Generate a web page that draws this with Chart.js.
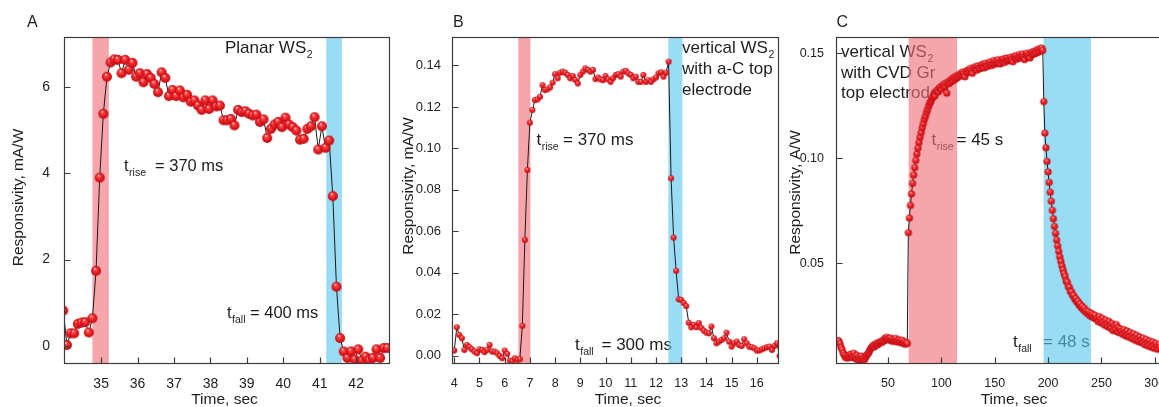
<!DOCTYPE html>
<html><head><meta charset="utf-8">
<script src="https://cdn.jsdelivr.net/npm/chart.js@4"></script>
<style>
html,body{margin:0;padding:0;background:#fff;width:1159px;height:407px;overflow:hidden;position:relative}
canvas{position:absolute;top:0}
</style></head><body>
<canvas id="ca" style="left:0px;width:400px;height:407px" width="400" height="407"></canvas>
<canvas id="cb" style="left:390px;width:400px;height:407px" width="400" height="407"></canvas>
<canvas id="cc" style="left:780px;width:420px;height:407px" width="420" height="407"></canvas>
<script>
// ---------- DATA ----------
// Panel A: planar WS2 (sampling grid start / step, seconds)
const aStart = 33.96, aStep = 0.1;
const aValues = [0.82,0.02,0.29,0.29,0.51,0.54,0.55,0.31,0.64,1.74,
 3.90,5.38,6.24,6.57,6.64,6.63,6.32,6.63,6.40,6.56,
 6.24,6.32,6.11,6.30,6.21,6.07,5.88,6.34,6.21,5.79,
 5.93,5.79,5.92,5.76,5.82,5.66,5.69,5.57,5.47,5.69,
 5.49,5.69,5.55,5.57,5.23,5.23,5.26,5.11,5.47,5.42,
 5.44,5.38,5.34,5.36,5.19,5.25,4.82,5.03,5.13,5.19,
 5.07,5.29,5.13,5.07,4.99,4.78,4.80,5.03,5.09,5.30,
 4.55,5.09,4.59,4.76,3.47,1.37,0.18,-0.13,-0.28,-0.13,
 -0.32,-0.08,-0.34,-0.25,-0.34,-0.28,-0.08,-0.28,-0.05,-0.05];
const aXTicks = [35,36,37,38,39,40,41,42];
const aYTicks = [0,2,4,6];
const aRise = [34.76,35.21], aFall = [41.18,41.61];

// Panel B: vertical WS2 with a-C top electrode
const bStart = 4.0, bStep = 0.1;
const bValues = [0.0026,0.0138,0.0101,0.0085,0.0029,0.0053,0.0042,0.0032,0.0021,0.0013,
 0.0032,0.0029,0.0018,0.0029,0.0053,0.0021,0.0021,0.0013,0.0000,-0.0011,
 0.0026,0.0010,-0.0022,-0.0027,-0.0011,-0.0019,-0.0016,0.0145,0.0559,0.0896,
 0.1124,0.1185,0.1233,0.1236,0.1249,0.1305,0.1281,0.1285,0.1294,0.1317,
 0.1358,0.1338,0.1365,0.1370,0.1365,0.1354,0.1338,0.1349,0.1330,0.1313,
 0.1354,0.1370,0.1386,0.1378,0.1370,0.1378,0.1334,0.1342,0.1333,0.1329,
 0.1349,0.1333,0.1321,0.1338,0.1354,0.1358,0.1346,0.1370,0.1374,0.1362,
 0.1354,0.1338,0.1346,0.1321,0.1321,0.1354,0.1321,0.1329,0.1321,0.1333,
 0.1342,0.1362,0.1367,0.1346,0.1365,0.1418,0.0856,0.0570,0.0410,0.0273,
 0.0270,0.0255,0.0240,0.0160,0.0138,0.0150,0.0138,0.0158,0.0135,0.0122,
 0.0112,0.0109,0.0142,0.0085,0.0061,0.0069,0.0077,0.0085,0.0112,0.0069,
 0.0045,0.0061,0.0069,0.0053,0.0048,0.0080,0.0061,0.0045,0.0042,0.0037,
 0.0026,0.0026,0.0032,0.0037,0.0042,0.0045,0.0029,0.0048,0.0061,0.0000];
const bXTicks = [4,5,6,7,8,9,10,11,12,13,14,15,16];
const bYTicks = [0,0.02,0.04,0.06,0.08,0.10,0.12,0.14];
const bRise = [6.54,7.02], bFall = [12.49,13.05];

// Panel C: vertical WS2 with CVD graphene top electrode
const cStart = 2, cStep = 1;
const cValues = [
 0.0125,0.0131,0.0127,0.0116,0.0098,0.0087,0.0071,0.0062,0.0050,0.0056,
 0.0047,0.0061,0.0052,0.0066,0.0058,0.0049,0.0070,0.0055,0.0044,0.0060,
 0.0038,0.0051,0.0042,0.0057,0.0036,0.0048,0.0040,0.0053,0.0061,0.0068,
 0.0075,0.0086,0.0095,0.0101,0.0108,0.0100,0.0112,0.0117,0.0109,0.0121,
 0.0118,0.0126,0.0122,0.0131,0.0128,0.0142,0.0136,0.0146,0.0139,0.0133,
 0.0143,0.0130,0.0137,0.0126,0.0134,0.0141,0.0129,0.0123,0.0135,0.0127,
 0.0121,0.0132,0.0118,0.0126,0.0113,0.0122,0.0117,
 0.0645,0.0715,0.0775,0.0830,0.0880,0.0920,0.0955,0.0990,0.1020,0.1048,
 0.1075,0.1100,0.1122,0.1145,0.1165,0.1185,0.1200,0.1218,0.1232,0.1248,
 0.1262,0.1270,0.1283,0.1292,0.1305,0.1298,0.1318,0.1325,0.1316,0.1334,
 0.1340,0.1329,0.1346,0.1352,0.1341,0.1358,0.1310,0.1362,0.1355,0.1371,
 0.1364,0.1379,0.1370,0.1386,0.1377,0.1392,0.1384,
 0.1398,0.1390,0.1405,0.1396,0.1411,0.1402,0.1388,0.1415,0.1407,0.1421,
 0.1412,0.1428,0.1418,0.1405,0.1432,0.1424,0.1436,0.1419,0.1440,0.1431,
 0.1426,0.1444,0.1435,0.1448,0.1430,0.1452,0.1441,0.1437,0.1455,0.1446,
 0.1459,0.1442,0.1451,0.1466,0.1448,0.1460,0.1453,0.1470,0.1457,0.1449,
 0.1468,0.1461,0.1474,0.1456,0.1470,0.1478,0.1463,0.1475,0.1468,0.1482,
 0.1471,0.1460,0.1485,0.1476,0.1489,0.1472,0.1481,0.1494,0.1478,0.1488,
 0.1497,0.1483,0.1470,0.1492,0.1501,0.1486,0.1495,0.1478,0.1504,0.1493,
 0.1508,0.1497,0.1512,0.1501,0.1518,0.1506,0.1522,0.1511,0.1525,0.1514,
 0.1270,0.1120,0.1050,0.0985,0.0935,0.0885,0.0838,0.0795,0.0752,0.0712,
 0.0675,0.0642,0.0610,0.0582,0.0556,0.0530,0.0508,0.0487,0.0468,0.0450,
 0.0436,0.0414,0.0409,0.0388,0.0384,0.0365,0.0362,0.0346,0.0345,0.0328,
 0.0331,0.0314,0.0318,0.0300,0.0305,0.0288,0.0294,0.0278,0.0284,0.0268,
 0.0272,0.0259,0.0268,0.0250,0.0262,0.0244,0.0255,0.0238,0.0251,0.0233,
 0.0238,0.0221,0.0245,0.0229,0.0214,0.0236,0.0219,0.0204,0.0228,0.0209,
 0.0196,0.0222,0.0201,0.0188,0.0212,0.0178,0.0199,0.0185,0.0207,0.0172,
 0.0191,0.0168,0.0186,0.0175,0.0160,0.0183,0.0166,0.0152,0.0177,0.0158,
 0.0146,0.0169,0.0150,0.0139,0.0163,0.0144,0.0131,0.0156,0.0137,0.0125,
 0.0148,0.0130,0.0119,0.0142,0.0124,0.0110,0.0136,0.0118,0.0104,0.0129,
 0.0112,0.0098,0.0124,0.0106,0.0093,0.0117,0.0101,0.0089,0.0112,0.0097];
const cXTicks = [50,100,150,200,250,300];
const cYTicks = [0.05,0.10,0.15];
const cRise = [69.3,114.7], cFall = [195.8,240.2];

// ---------- STYLE ----------
const FONT = '"Liberation Sans", Arial, Helvetica, sans-serif';
const TXT = '#1e1e1e';
const RED_BAND = 'rgba(240,110,120,0.62)';
const BLUE_BAND = 'rgba(94,199,239,0.62)';

function sphere(r){
  const s = Math.ceil(2*r+2);
  const c = document.createElement('canvas'); c.width = s; c.height = s;
  const g = c.getContext('2d'); const cx = s/2, cy = s/2;
  const gr = g.createRadialGradient(cx-r*0.25, cy-r*0.45, r*0.05, cx, cy, r);
  gr.addColorStop(0,'#ffe4e4'); gr.addColorStop(0.22,'#ff4a4a');
  gr.addColorStop(0.6,'#ea1c22'); gr.addColorStop(1,'#b50d12');
  g.fillStyle = gr; g.beginPath(); g.arc(cx,cy,r,0,Math.PI*2); g.fill();
  return c;
}

function toPoints(start, step, vals){ return vals.map((v,i)=>({x: start + i*step, y: v})); }

function fTxt(ctx, s, x, y, size, align){
  ctx.font = size + 'px ' + FONT; ctx.textAlign = align || 'left';
  ctx.textBaseline = 'alphabetic'; ctx.fillStyle = TXT; ctx.fillText(s, x, y);
}
function tSub(ctx, x, y, sub, rest, xRest, size){
  fTxt(ctx, 't', x, y, size);
  ctx.font = size + 'px ' + FONT; const w = ctx.measureText('t').width;
  fTxt(ctx, sub, x + w + 0.5, y + 5, 10.5);
  fTxt(ctx, rest, xRest, y, size);
}
function ws2(ctx, s, x, y, size){
  fTxt(ctx, s, x, y, size);
  ctx.font = size + 'px ' + FONT; const w = ctx.measureText(s).width;
  fTxt(ctx, '2', x + w + 0.5, y + 5, 10.5);
}
function yTitle(ctx, s, x, y, size){
  ctx.save(); ctx.translate(x, y); ctx.rotate(-Math.PI/2);
  fTxt(ctx, s, 0, 0, size, 'center'); ctx.restore();
}

function makeChart(id, o){
  const decorate = {
    id: 'decorate' + id,
    beforeDatasetsDraw(chart){
      const ctx = chart.ctx, a = chart.chartArea, xs = chart.scales.x;
      ctx.save();
      o.annot(ctx, o.off);
      ctx.beginPath(); ctx.rect(a.left, a.top, a.right - a.left, a.bottom - a.top); ctx.clip();
      [[o.rise, RED_BAND],[o.fall, BLUE_BAND]].forEach(([b,col])=>{
        const x1 = xs.getPixelForValue(b[0]), x2 = xs.getPixelForValue(b[1]);
        ctx.fillStyle = col; ctx.fillRect(x1, a.top, x2 - x1, a.bottom - a.top);
      });
      ctx.restore();
    },
    afterDraw(chart){
      const ctx = chart.ctx, a = chart.chartArea, xs = chart.scales.x, ys = chart.scales.y;
      ctx.save();
      ctx.strokeStyle = '#3c3c3c'; ctx.lineWidth = 1.2;
      const L = Math.round(a.left)+0.5, T = Math.round(a.top)+0.5, R = Math.round(a.right)-0.5, B = Math.round(a.bottom)-0.5;
      ctx.strokeRect(L, T, R - L, B - T);
      ctx.beginPath();
      o.xTicks.forEach(v=>{ const p = Math.round(xs.getPixelForValue(v))+0.5; ctx.moveTo(p, B); ctx.lineTo(p, B-6); });
      o.yTicks.forEach(v=>{ const p = Math.round(ys.getPixelForValue(v))+0.5; ctx.moveTo(L, p); ctx.lineTo(L+6, p); });
      ctx.stroke();
      o.titles(ctx, o.off);
      ctx.restore();
    }
  };
  return new Chart(document.getElementById(id), {
    type: 'line',
    data: { datasets: [{
      data: toPoints(o.start, o.step, o.values),
      borderColor: '#1a1a1a', borderWidth: 1, tension: 0,
      pointStyle: sphere(o.r), pointRadius: o.r, pointHoverRadius: o.r
    }]},
    options: {
      responsive: false, animation: false, events: [],
      layout: { padding: { left: 0, right: o.padRight, top: 37, bottom: 0 } },
      plugins: { legend: { display: false }, tooltip: { enabled: false } },
      scales: {
        x: {
          type: 'linear', min: o.xMin, max: o.xMax,
          afterBuildTicks: s => { s.ticks = o.xTicks.map(v => ({ value: v })); },
          afterFit: s => { s.height = 43; },
          grid: { display: false }, border: { display: false },
          ticks: { autoSkip: false, maxRotation: 0, padding: 4, color: '#222',
                   font: { family: FONT, size: o.xFont }, callback: v => String(v) }
        },
        y: {
          type: 'linear', min: o.yMin, max: o.yMax,
          afterBuildTicks: s => { s.ticks = o.yTicks.map(v => ({ value: v })); },
          afterFit: s => { s.width = o.yW; },
          grid: { display: false }, border: { display: false },
          ticks: { autoSkip: false, padding: o.yPad, color: '#222',
                   font: { family: FONT, size: o.yFont }, callback: v => Number(v).toFixed(o.yDec) }
        }
      }
    },
    plugins: [decorate]
  });
}

makeChart('ca', {
  off: 0, start: aStart, step: aStep, values: aValues, r: 5,
  xMin: 33.98, xMax: 42.93, yMin: -0.42, yMax: 7.16,
  xTicks: aXTicks, yTicks: aYTicks, yDec: 0, rise: aRise, fall: aFall,
  yW: 64, padRight: 10, xFont: 14, yFont: 14, yPad: 6,
  annot(ctx, off){
    ws2(ctx, 'Planar WS', 225 - off, 53, 17);
    tSub(ctx, 124 - off, 171, 'rise', '= 370 ms', 155 - off, 16.5);
    tSub(ctx, 227 - off, 318, 'fall', '= 400 ms', 250 - off, 16.5);
  },
  titles(ctx, off){
    fTxt(ctx, 'A', 27 - off, 27, 16);
    yTitle(ctx, 'Responsivity, mA/W', 23 - off, 197.5, 15.5);
    fTxt(ctx, 'Time, sec', 224.5 - off, 404, 15.5, 'center');
  }
});

makeChart('cb', {
  off: 390, start: bStart, step: bStep, values: bValues, r: 3,
  xMin: 3.91, xMax: 16.88, yMin: -0.0039, yMax: 0.1537,
  xTicks: bXTicks, yTicks: bYTicks, yDec: 2, rise: bRise, fall: bFall,
  yW: 62, padRight: 11, xFont: 12.5, yFont: 13, yPad: 3,
  annot(ctx, off){
    ws2(ctx, 'vertical WS', 682 - off, 53, 17);
    fTxt(ctx, 'with a-C top', 682 - off, 74, 17);
    fTxt(ctx, 'electrode', 682 - off, 94.5, 17);
    tSub(ctx, 536.5 - off, 145, 'rise', '= 370 ms', 563 - off, 17);
    tSub(ctx, 575 - off, 350, 'fall', '= 300 ms', 601.5 - off, 17);
  },
  titles(ctx, off){
    fTxt(ctx, 'B', 453 - off, 26.5, 16);
    yTitle(ctx, 'Responsivity, mA/W', 413 - off, 186, 15.5);
    fTxt(ctx, 'Time, sec', 628 - off, 404, 15.5, 'center');
  }
});

makeChart('cc', {
  off: 780, start: cStart, step: cStep, values: cValues, r: 3.6,
  xMin: 1.2, xMax: 329.3, yMin: 0.0019, yMax: 0.1578,
  xTicks: cXTicks, yTicks: cYTicks, yDec: 2, rise: cRise, fall: cFall,
  yW: 56, padRight: 14, xFont: 12.5, yFont: 12.5, yPad: 4,
  annot(ctx, off){
    ws2(ctx, 'vertical WS', 841 - off, 57, 17);
    fTxt(ctx, 'with CVD Gr', 841 - off, 77.5, 17);
    fTxt(ctx, 'top electrode', 841 - off, 97.5, 17);
    tSub(ctx, 931.5 - off, 145, 'rise', '= 45 s', 956.5 - off, 17);
    tSub(ctx, 1013 - off, 346.5, 'fall', '= 48 s', 1043 - off, 17);
  },
  titles(ctx, off){
    fTxt(ctx, 'C', 836.5 - off, 26.5, 16);
    yTitle(ctx, 'Responsivity, A/W', 799.5 - off, 192.5, 15.5);
    fTxt(ctx, 'Time, sec', 1014 - off, 404, 15.5, 'center');
  }
});
</script>
</body></html>
